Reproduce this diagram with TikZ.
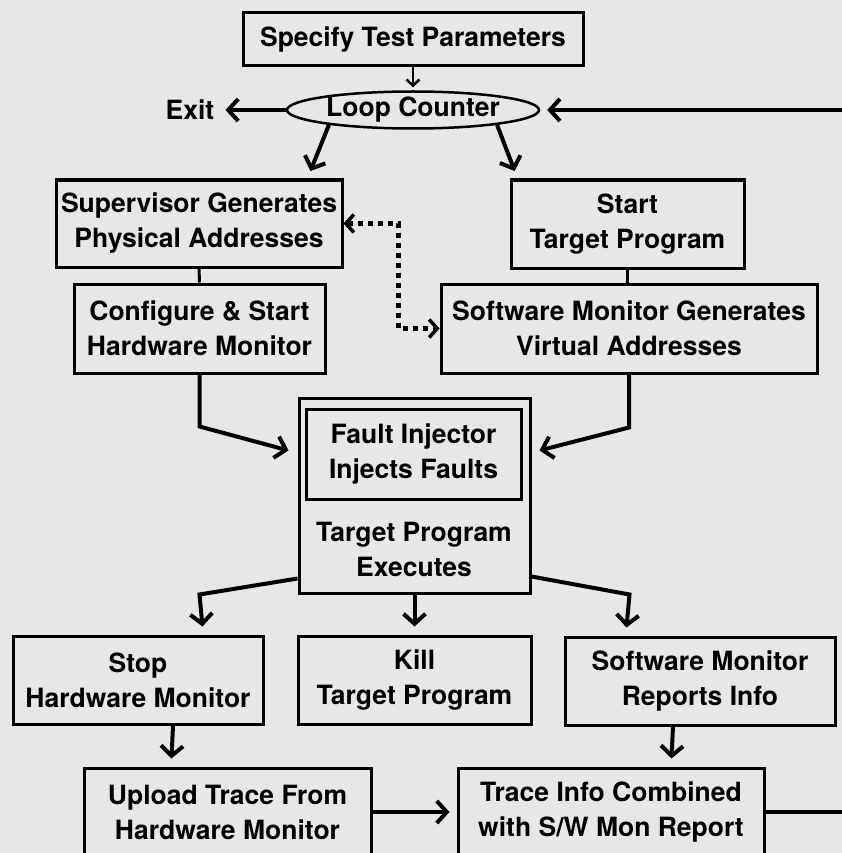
\documentclass[tikz,border=0pt]{standalone}
\usepackage{fontspec}
\setmainfont{TeX Gyre Heros}
\usetikzlibrary{arrows.meta,shapes.geometric,calc}
\definecolor{paper}{RGB}{231,231,229}
\newcommand{\chartfont}{\fontsize{26.5}{35}\selectfont\bfseries}

\begin{document}
\begin{tikzpicture}[x=1pt,y=-1pt,
  box/.style={draw,line width=3pt,inner sep=0pt,align=center,font=\chartfont},
  flow/.style={line width=4pt,-{Straight Barb[length=10pt,width=22pt]}},
  link/.style={line width=3pt},
  dotflow/.style={line width=5pt,dash pattern=on 5pt off 5pt,
    {Straight Barb[length=8pt,width=18pt,line width=3.5pt]}-{Straight Barb[length=8pt,width=18pt,line width=3.5pt]}}]
  \useasboundingbox (0,0) rectangle (842,853);
  \fill[paper] (0,0) rectangle (842,853);
  % top of the loop
  \node[box,minimum width=340pt,minimum height=53pt] (spec) at (413,39.5) {Specify Test Parameters};
  \node[draw,ellipse,line width=2.5pt,inner sep=0pt,minimum width=252pt,minimum height=37pt,
    font=\chartfont] (loop) at (413,110) {Loop Counter};
  \node[font=\chartfont,inner xsep=11pt] (exit) at (190,110) {Exit};
  \node[box,minimum width=286pt,minimum height=87pt] (super) at (199,223.5) {Supervisor Generates\\Physical Addresses};
  \node[box,minimum width=233pt,minimum height=88pt] (start) at (627.5,224) {Start\\Target Program};
  \node[box,minimum width=251pt,minimum height=89pt] (config) at (199.5,328.5) {Configure \& Start\\Hardware Monitor};
  \node[box,minimum width=376pt,minimum height=89pt] (swgen) at (629,328.5) {Software Monitor Generates\\Virtual Addresses};
  % injection run
  \node[box,minimum width=231pt,minimum height=195pt] (exec) at (414.5,495.5) {};
  \node[box,minimum width=215pt,minimum height=90pt] (inject) at (413.5,454) {Fault Injector\\Injects Faults};
  \node[align=center,font=\chartfont,inner sep=0pt] (runs) at (414,549.5) {Target Program\\Executes};
  % after the run
  \node[box,minimum width=250pt,minimum height=88pt] (stop) at (138,680) {Stop\\Hardware Monitor};
  \node[box,minimum width=233pt,minimum height=88pt] (kill) at (414.5,680) {Kill\\Target Program};
  \node[box,minimum width=270pt,minimum height=88pt] (swrep) at (700,681) {Software Monitor\\Reports Info};
  \node[box,minimum width=287pt,minimum height=88pt] (upload) at (227.5,812) {Upload Trace From\\Hardware Monitor};
  \node[box,minimum width=306pt,minimum height=88pt] (trace) at (611,812) {Trace Info Combined\\with S/W Mon Report};

  \draw[line width=2.5pt,-{Straight Barb[length=6pt,width=13pt]},shorten >=3pt] (spec) -- (loop);
  \draw[flow] (loop) -- (exit);
  \draw[flow,shorten >=8pt] (loop.190) -- ($(super.north east)+(-36,0)$);
  \draw[flow,shorten >=8pt] (loop.350) -- ($(start.north west)+(8,0)$);
  \draw[link] (super) -- (config);
  \draw[link] (start.south) -- (start.south |- swgen.north);
  \draw[dotflow] (super.east) -- ++(55,0) |- (swgen.west);
  \draw[flow] (config.south) -- ++(0,52) -- ($(exec.north west)+(-9,54)$);
  \draw[flow] (swgen.south) -- ++(0,53) -- ($(exec.north east)+(8,54)$);
  \draw[flow] ($(exec.south west)+(0,-16)$) -- ($(exec.south west)+(-98,0)$) -- ($(stop.north east)+(-62,-8)$);
  \draw[flow,shorten >=8pt] (exec.south) -- (kill.north);
  \draw[flow] ($(exec.south east)+(0,-18)$) -- ($(exec.south east)+(98,0)$) -- ($(swrep.north west)+(63,-8)$);
  \draw[flow] ($(stop.south)+(35,0)$) -- ($(upload.north west)+(89,-8)$);
  \draw[flow] ($(swrep.south)+(-27,0)$) -- ($(trace.north west)+(215,-8)$);
  \draw[flow,shorten >=7pt] (upload) -- (trace);
  \draw[flow,shorten >=7pt] (trace.east) -- ++(110,0) |- (loop.east);
\end{tikzpicture}
\end{document}
